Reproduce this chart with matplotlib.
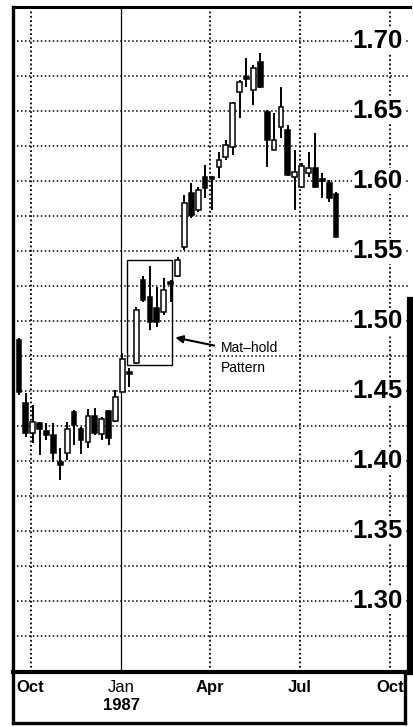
import matplotlib
matplotlib.use('Agg')
import matplotlib.pyplot as plt
import matplotlib.transforms as mtransforms
from matplotlib.patches import Rectangle
import pandas as pd

# ---------------- data (weekly candles, Sep 1986 - Aug 1987) ----------------
first_week = '1986-09-19'
opens  = [1.4864, 1.4414, 1.4200, 1.4271, 1.4214, 1.4186, 1.3993, 1.4057, 1.4350, 1.4229,
          1.4136, 1.4321, 1.4193, 1.4357, 1.4286, 1.4493, 1.4636, 1.4700, 1.5293, 1.5171,
          1.5093, 1.5064, 1.5279, 1.5321, 1.5529, 1.5914, 1.5793, 1.6029, 1.6029, 1.6100,
          1.6171, 1.6243, 1.6636, 1.6743, 1.6650, 1.6850, 1.6493, 1.6221, 1.6386, 1.6364,
          1.6029, 1.5957, 1.6057, 1.6093, 1.6014, 1.5986, 1.5907]
highs  = [1.4879, 1.4486, 1.4400, 1.4279, 1.4271, 1.4271, 1.4093, 1.4279, 1.4364, 1.4243,
          1.4371, 1.4379, 1.4314, 1.4364, 1.4507, 1.4770, 1.4664, 1.5100, 1.5321, 1.5393,
          1.5243, 1.5307, 1.5293, 1.5457, 1.5900, 1.5986, 1.5957, 1.6114, 1.6036, 1.6207,
          1.6293, 1.6564, 1.6721, 1.6879, 1.6829, 1.6914, 1.6507, 1.6486, 1.6671, 1.6400,
          1.6221, 1.6129, 1.6207, 1.6343, 1.6057, 1.6007, 1.5921]
lows   = [1.4471, 1.4171, 1.4129, 1.4043, 1.4150, 1.3993, 1.3864, 1.4007, 1.4114, 1.4050,
          1.4093, 1.4186, 1.4150, 1.4114, 1.4279, 1.4493, 1.4529, 1.4693, 1.5136, 1.4936,
          1.4957, 1.5043, 1.5136, 1.5314, 1.5507, 1.5736, 1.5779, 1.5879, 1.5793, 1.6021,
          1.6150, 1.6186, 1.6450, 1.6671, 1.6543, 1.6664, 1.6100, 1.6221, 1.6307, 1.6036,
          1.5793, 1.5950, 1.6029, 1.5950, 1.5879, 1.5850, 1.5593]
closes = [1.4493, 1.4200, 1.4279, 1.4229, 1.4186, 1.4057, 1.3971, 1.4229, 1.4257, 1.4150,
          1.4321, 1.4200, 1.4300, 1.4164, 1.4457, 1.4729, 1.4621, 1.5079, 1.5150, 1.4993,
          1.4993, 1.5221, 1.5264, 1.5436, 1.5843, 1.5757, 1.5936, 1.5950, 1.6014, 1.6150,
          1.6257, 1.6557, 1.6707, 1.6729, 1.6807, 1.6671, 1.6293, 1.6293, 1.6529, 1.6043,
          1.6064, 1.6107, 1.6093, 1.5957, 1.6000, 1.5879, 1.5600]

price_labels = ['1.70', '1.65', '1.60', '1.55', '1.50', '1.45', '1.40', '1.35', '1.30']
month_ticks = ['1986-10-01', '1987-01-01', '1987-04-01', '1987-07-01', '1987-10-01']
month_labels = ['Oct', 'Jan', 'Apr', 'Jul', 'Oct']
year_label = '1987'

box_start, box_end = '1987-01-07', '1987-02-21'
box_low, box_high = 1.4686, 1.5436
arrow_tail = ('1987-04-08', 1.4821)
arrow_head = ('1987-02-22', 1.4886)
note_pos = ('1987-04-12', 1.4807)
note_lines = ['Mat\u2013hold', 'Pattern']

# ---------------- figure ----------------
plt.rcParams['font.family'] = ['Liberation Sans', 'DejaVu Sans']
W, H = 413, 727
fig = plt.figure(figsize=(W / 100, H / 100), dpi=100)
ax = fig.add_axes([13 / W, (H - 672) / H, 397 / W, 665 / H])

dates = pd.date_range(first_week, periods=len(opens), freq='7D')
t = lambda s: pd.Timestamp(s)

ax.set_xlim(t('1986-09-13'), t('1987-10-21'))
ax.set_ylim(1.2493, 1.7243)

# grid
gl = [1.25 + 0.025 * k for k in range(20)]
for g in gl:
    ax.axhline(g, color='black', lw=1.1, ls=(0, (1, 1.6)), zorder=1)
for i, m in enumerate(month_ticks):
    if i == 1:
        ax.axvline(t(m), color='black', lw=0.9, zorder=1)
    else:
        ax.axvline(t(m), color='black', lw=1.3, ls=(0, (1, 1.4)), zorder=1)

# candles
bw = 4.8
for d, o, h, l, c in zip(dates, opens, highs, lows, closes):
    ax.vlines(d, l, h, color='black', lw=1.4, zorder=3)
    up = c >= o
    bottom = min(o, c)
    height = max(abs(c - o), 0.0012)
    ax.bar(d, height, bottom=bottom, width=bw, color='white' if up else 'black',
           edgecolor='black', linewidth=1.1, zorder=4)

# price labels on the right
tr = mtransforms.blended_transform_factory(ax.transAxes, ax.transData)
for lab in price_labels:
    ax.text(0.982, float(lab), lab, transform=tr, ha='right', va='center',
            fontsize=18.5, fontweight='bold',
            bbox=dict(facecolor='white', edgecolor='none', pad=0.5), zorder=6)

# mat-hold box and annotation
ax.add_patch(Rectangle((t(box_start), box_low), t(box_end) - t(box_start), box_high - box_low,
                       fill=False, edgecolor='black', lw=1.0, zorder=5))
ax.annotate('', xy=(t(arrow_head[0]), arrow_head[1]), xytext=(t(arrow_tail[0]), arrow_tail[1]),
            arrowprops=dict(arrowstyle='-|>', color='black', lw=1.5, mutation_scale=11),
            zorder=6)
ax.text(t(note_pos[0]), note_pos[1], note_lines[0], ha='left', va='center', fontsize=10,
        zorder=6, bbox=dict(facecolor='white', edgecolor='none', pad=0.2))
ax.text(t(note_pos[0]), note_pos[1] - 0.0143, note_lines[1], ha='left', va='center',
        fontsize=10, zorder=6, bbox=dict(facecolor='white', edgecolor='none', pad=0.2))

# axes ticks
ax.set_yticks([])
ax.set_xticks([t(m) for m in month_ticks])
ax.set_xticklabels(month_labels, fontsize=12)
for i, tl in enumerate(ax.get_xticklabels()):
    tl.set_fontweight('normal' if i == 1 else 'bold')
ax.tick_params(axis='x', length=0, pad=6)
trx = mtransforms.blended_transform_factory(ax.transData, fig.transFigure)
ax.text(t(month_ticks[1]), 1 - 705 / H, year_label, transform=trx, ha='center', va='center',
        fontsize=12, fontweight='bold')

# frame
ax.spines['left'].set_linewidth(2.4)
ax.spines['top'].set_linewidth(2.2)
ax.spines['bottom'].set_linewidth(3.0)
ax.spines['right'].set_linewidth(4.5)
ax.spines['right'].set_bounds(1.2493, 1.515)

axb = fig.add_axes([13 / W, 4 / H, 392 / W, 51 / H])
axb.set_xticks([])
axb.set_yticks([])
axb.patch.set_alpha(0)
for s in ['left', 'right', 'bottom']:
    axb.spines[s].set_linewidth(2.4)
axb.spines['top'].set_visible(False)

fig.savefig('out.png', dpi=100)
